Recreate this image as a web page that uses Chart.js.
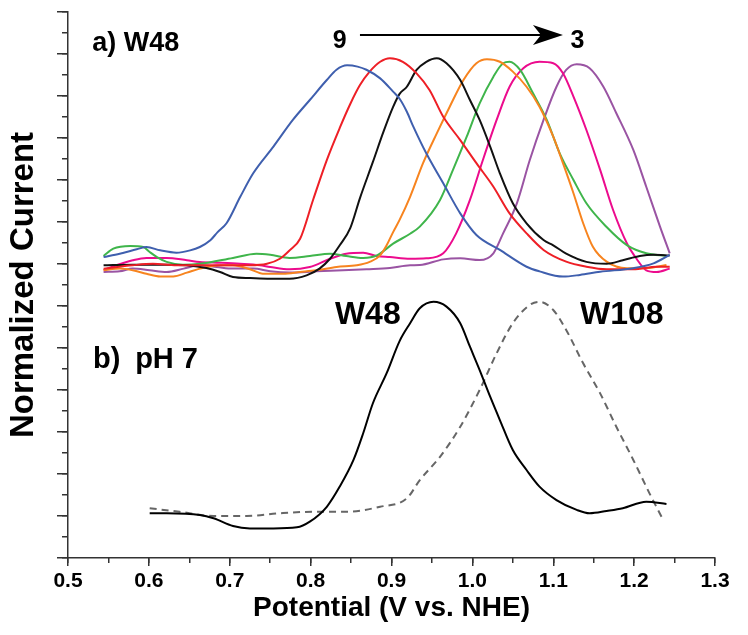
<!DOCTYPE html>
<html><head><meta charset="utf-8">
<script src="https://cdn.jsdelivr.net/npm/chart.js@4"></script>
<style>html,body{margin:0;padding:0;background:#fff}</style>
</head><body>
<canvas id="c" width="748" height="635"></canvas>
<script>
// ---- Panel a) W48, pH series (potential V vs. NHE, normalized current in axis units) ----
const blueV = [0.544,0.564,0.585,0.597,0.614,0.634,0.651,0.663,0.676,0.685,0.696,0.713,0.729,0.754,0.778,0.799,0.820,0.832,0.845,0.858,0.869,0.886,0.902,0.910,0.919,0.927,0.943,0.964,0.985,1.005,1.034,1.067,1.083,1.112,1.133,1.158,1.199,1.224,1.244];
const blueI = [14.33,14.49,14.70,14.81,14.65,14.54,14.65,14.81,15.13,15.52,15.94,17.20,18.32,19.59,20.86,21.81,22.76,23.25,23.46,23.40,23.25,22.84,22.21,21.87,21.25,20.54,19.27,17.84,16.41,15.38,14.67,13.87,13.65,13.40,13.48,13.63,13.80,14.03,14.43];

const redV = [0.544,0.580,0.605,0.634,0.663,0.704,0.725,0.746,0.762,0.774,0.787,0.803,0.820,0.836,0.849,0.861,0.873,0.886,0.898,0.914,0.931,0.947,0.964,0.985,1.005,1.026,1.046,1.067,1.088,1.116,1.141,1.166,1.199,1.228,1.244];
const redI = [13.78,13.94,14.01,13.94,13.94,13.94,13.94,14.01,14.25,14.65,15.20,17.05,18.95,20.48,21.62,22.52,23.16,23.63,23.80,23.63,23.08,22.29,21.01,19.90,18.80,17.68,16.41,15.46,14.67,14.11,13.87,13.75,13.75,13.87,13.87];

const blackV = [0.544,0.580,0.622,0.647,0.671,0.688,0.704,0.725,0.750,0.774,0.795,0.811,0.824,0.836,0.849,0.861,0.877,0.890,0.902,0.910,0.919,0.931,0.943,0.956,0.968,0.985,0.997,1.009,1.022,1.034,1.050,1.067,1.088,1.100,1.116,1.141,1.166,1.186,1.207,1.224,1.244];
const blackI = [13.94,13.97,13.97,13.94,13.81,13.62,13.38,13.33,13.30,13.30,13.46,13.78,14.25,14.89,15.71,17.14,18.86,20.29,21.48,22.10,22.44,23.24,23.63,23.80,23.56,22.76,21.81,20.86,19.59,18.32,16.89,15.94,15.14,14.89,14.49,14.10,14.01,14.18,14.38,14.44,14.41];

const orangeV = [0.544,0.564,0.580,0.597,0.614,0.630,0.647,0.663,0.688,0.704,0.725,0.741,0.766,0.787,0.807,0.832,0.857,0.873,0.886,0.894,0.902,0.910,0.923,0.939,0.956,0.972,0.989,1.005,1.018,1.034,1.050,1.067,1.083,1.100,1.112,1.125,1.137,1.149,1.166,1.191,1.215,1.240];
const orangeI = [13.70,13.78,13.70,13.54,13.41,13.41,13.59,13.78,13.94,13.94,13.75,13.54,13.54,13.62,13.70,13.86,13.94,14.10,14.41,14.89,15.52,16.10,17.20,18.80,20.22,21.49,22.76,23.56,23.75,23.63,23.16,22.44,21.49,20.06,18.80,17.37,15.94,14.82,14.11,13.80,13.80,13.95];

const greenV = [0.544,0.556,0.577,0.593,0.601,0.610,0.622,0.642,0.663,0.704,0.733,0.750,0.774,0.799,0.824,0.844,0.865,0.882,0.902,0.923,0.935,0.960,0.976,0.993,1.009,1.026,1.038,1.046,1.059,1.075,1.092,1.108,1.125,1.141,1.166,1.191,1.215,1.240];
const greenI = [14.38,14.73,14.86,14.81,14.57,14.33,14.10,13.97,14.01,14.29,14.49,14.44,14.29,14.38,14.49,14.38,14.29,14.41,14.97,15.44,15.78,17.05,18.48,20.06,21.65,22.92,23.56,23.63,23.24,22.13,20.86,19.27,18.00,16.89,15.76,14.90,14.51,14.38];

const magentaV = [0.544,0.560,0.580,0.597,0.622,0.647,0.663,0.688,0.713,0.737,0.750,0.774,0.799,0.824,0.844,0.865,0.882,0.898,0.923,0.943,0.964,0.980,0.997,1.013,1.030,1.046,1.063,1.083,1.100,1.112,1.125,1.141,1.158,1.174,1.191,1.203,1.215,1.228,1.244];
const magentaI = [13.71,13.94,14.18,14.29,14.29,14.18,14.10,14.06,14.01,13.94,13.86,13.75,13.86,14.25,14.49,14.54,14.38,14.33,14.25,14.27,14.51,15.46,17.05,18.95,20.86,22.44,23.32,23.63,23.56,23.08,21.97,20.38,18.48,16.57,14.99,14.25,13.70,13.62,13.78];

const purpleV = [0.544,0.564,0.580,0.601,0.622,0.643,0.663,0.684,0.704,0.729,0.750,0.774,0.807,0.840,0.869,0.898,0.923,0.935,0.964,0.985,1.009,1.026,1.038,1.055,1.071,1.088,1.104,1.116,1.129,1.145,1.162,1.178,1.199,1.215,1.232,1.244];
const purpleI = [13.62,13.65,13.78,13.70,13.62,13.78,13.94,13.86,13.78,13.78,13.65,13.59,13.65,13.70,13.75,13.81,13.94,13.95,14.22,14.27,14.19,14.51,15.46,16.89,18.95,20.86,22.44,23.24,23.51,23.32,22.44,21.18,19.43,17.68,15.78,14.51];

// ---- Panel b) pH 7 ----
const w48V = [0.601,0.622,0.663,0.680,0.704,0.725,0.754,0.783,0.799,0.820,0.836,0.853,0.865,0.877,0.894,0.910,0.923,0.935,0.952,0.968,0.985,0.997,1.009,1.022,1.034,1.050,1.067,1.083,1.104,1.129,1.145,1.166,1.186,1.215,1.240];
const w48I = [2.13,2.13,2.05,1.89,1.52,1.41,1.41,1.46,1.73,2.44,3.40,4.67,5.94,7.37,8.80,10.33,11.18,11.89,12.20,11.97,11.18,10.06,8.95,7.68,6.57,5.14,4.19,3.40,2.76,2.29,2.13,2.24,2.37,2.68,2.57];

const w108V = [0.601,0.638,0.680,0.721,0.762,0.803,0.844,0.886,0.919,0.935,0.960,0.985,1.009,1.030,1.050,1.071,1.083,1.100,1.116,1.137,1.158,1.178,1.199,1.219,1.236];
const w108I = [2.37,2.20,2.00,2.00,2.13,2.20,2.20,2.44,2.84,3.71,4.82,6.25,8.00,9.75,11.18,12.05,12.20,11.81,10.86,9.27,7.84,6.25,4.67,3.08,1.81];

// ---- axis ticks ----
const xTickLabels = ['0.5','0.6','0.7','0.8','0.9','1.0','1.1','1.2','1.3'];

// ---- text annotations (data units) ----
const noteTexts = ['a)','W48','9','3','W48','W108','b)','pH 7'];
const noteX     = [0.530,0.569,0.836,1.130,0.830,1.133,0.531,0.583];
const noteY     = [24.50,24.50,24.60,24.60,11.55,11.55,9.45,9.45];
const noteSize  = [27,27,25,25,32,32,29,29];
const noteAlign = ['left','left','center','center','left','left','left','left'];
const arrowFrom = [0.861, 24.90];
const arrowTo   = [1.112, 24.90];

const pts = (xs, ys) => xs.map((v, i) => ({x: v, y: ys[i]}));
const FONT = "'Liberation Sans', Arial, Helvetica, sans-serif";

function line(data, color, width, dash) {
  return {data, borderColor: color, borderWidth: width, borderDash: dash || [],
          pointRadius: 0, fill: false, cubicInterpolationMode: 'monotone',
          xAxisID: 'x', yAxisID: 'y'};
}

const notesPlugin = {
  id: 'notes',
  afterDatasetsDraw(chart) {
    const {ctx, scales: {x, y}} = chart;
    ctx.save();
    ctx.fillStyle = '#000';
    ctx.textBaseline = 'middle';
    noteTexts.forEach((t, i) => {
      ctx.font = `bold ${noteSize[i]}px ${FONT}`;
      ctx.textAlign = noteAlign[i];
      ctx.fillText(t, x.getPixelForValue(noteX[i]), y.getPixelForValue(noteY[i]));
    });
    // arrow
    const x1 = x.getPixelForValue(arrowFrom[0]), y1 = y.getPixelForValue(arrowFrom[1]);
    const x2 = x.getPixelForValue(arrowTo[0]),   y2 = y.getPixelForValue(arrowTo[1]);
    ctx.strokeStyle = '#000'; ctx.lineWidth = 2;
    ctx.beginPath(); ctx.moveTo(x1, y1); ctx.lineTo(x2 - 20, y2); ctx.stroke();
    ctx.beginPath();
    ctx.moveTo(x2, y2);
    ctx.lineTo(x2 - 30, y2 - 10);
    ctx.lineTo(x2 - 22, y2);
    ctx.lineTo(x2 - 30, y2 + 10);
    ctx.closePath(); ctx.fill();
    ctx.restore();
  }
};

new Chart(document.getElementById('c'), {
  type: 'line',
  data: {
    datasets: [
      line(pts(blueV, blueI), '#3f5fae', 2),
      line(pts(redV, redI), '#ee1f26', 2),
      line(pts(blackV, blackI), '#111111', 2),
      line(pts(orangeV, orangeI), '#f7841f', 2),
      line(pts(greenV, greenI), '#3fb54b', 2),
      line(pts(magentaV, magentaI), '#ec0b8d', 2),
      line(pts(purpleV, purpleI), '#9a54a3', 2),
      line(pts(w48V, w48I), '#000000', 2),
      line(pts(w108V, w108I), '#666666', 2, [7, 5])
    ]
  },
  options: {
    responsive: false,
    animation: false,
    devicePixelRatio: 1,
    layout: {padding: {left: 0, top: 12, right: 33, bottom: 0}},
    plugins: {legend: {display: false}, tooltip: {enabled: false}},
    scales: {
      x: {
        type: 'linear', position: 'bottom', weight: 1, min: 0.5, max: 1.3,
        ticks: {stepSize: 0.1, color: '#000', padding: 3, font: {family: FONT, size: 21, weight: 'bold'},
                callback: (v) => xTickLabels[Math.round((v - 0.5) * 10)] ?? ''},
        grid: {drawOnChartArea: false, drawTicks: true, tickLength: 8, color: '#333', lineWidth: 1.5},
        border: {display: true, color: '#333', width: 1.5},
        title: {display: true, text: 'Potential (V vs. NHE)', color: '#000',
                font: {family: FONT, size: 28, weight: 'bold'}, padding: {top: 0, bottom: 10}},
        afterFit(s) { s.height = 77; }
      },
      xMinor: {
        type: 'linear', position: 'bottom', weight: 0, min: 0.5, max: 1.3,
        ticks: {stepSize: 0.05, display: false},
        grid: {drawOnChartArea: false, drawTicks: true, tickLength: 5, color: '#333', lineWidth: 1.5},
        border: {display: false},
        afterFit(s) { s.height = 0; }
      },
      y: {
        type: 'linear', position: 'left', weight: 1, min: 0, max: 26,
        ticks: {stepSize: 2, display: false},
        grid: {drawOnChartArea: false, drawTicks: true, tickLength: 11, color: '#333', lineWidth: 1.5},
        border: {display: true, color: '#333', width: 1.5},
        title: {display: true, text: 'Normalized Current', color: '#000',
                font: {family: FONT, size: 33, weight: 'bold'}, padding: {top: 4, bottom: 0}},
        afterFit(s) { s.width = 68; }
      },
      yMinor: {
        type: 'linear', position: 'left', weight: 0, min: 0, max: 26,
        ticks: {stepSize: 1, display: false},
        grid: {drawOnChartArea: false, drawTicks: true, tickLength: 6, color: '#333', lineWidth: 1.5},
        border: {display: false},
        afterFit(s) { s.width = 0; }
      }
    }
  },
  plugins: [notesPlugin]
});
</script>
</body></html>
